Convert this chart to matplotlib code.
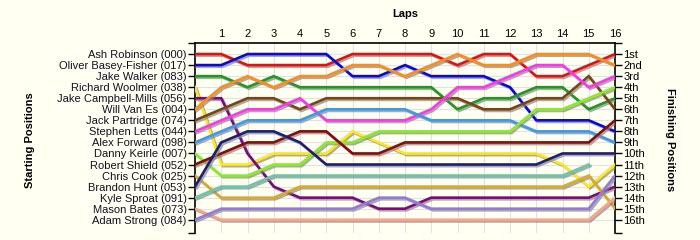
import numpy as np
import matplotlib
matplotlib.use("Agg")
import matplotlib.pyplot as plt
import matplotlib.patheffects as pe

nan = np.nan

# driver names in starting order
drivers = ["Ash Robinson (000)", "Oliver Basey-Fisher (017)", "Jake Walker (083)",
           "Richard Woolmer (038)", "Jake Campbell-Mills (056)", "Will Van Es (004)",
           "Jack Partridge (074)", "Stephen Letts (044)", "Alex Forward (098)",
           "Danny Keirle (007)", "Robert Shield (052)", "Chris Cook (025)",
           "Brandon Hunt (053)", "Kyle Sproat (091)", "Mason Bates (073)",
           "Adam Strong (084)"]
finish_labels = ["1st", "2nd", "3rd", "4th", "5th", "6th", "7th", "8th", "9th",
                 "10th", "11th", "12th", "13th", "14th", "15th", "16th"]
laps = list(range(17))

# position at laps 0..16
ash     = [1, 1, 2, 2, 2, 2, 1, 1, 1, 1, 2, 1, 1, 3, 3, 2, 1]
oliver  = [2, 2, 1, 1, 1, 1, 3, 3, 2, 3, 3, 3, 4, 7, 7, 7, 8]
jake_w  = [3, 3, 4, 3, 4, 4, 4, 4, 4, 4, 6, 5, 5, 4, 4, 6, 5]
richard = [4, 11, 11, 10, 10, 10, 8, 9, 10, 10, 10, 10, 10, 10, 11, 13, 11]
jake_cm = [5, 5, 10, 13, 14, 14, 14, 15, 15, 14, 14, 14, 14, 14, 14, 14, 13]
will    = [6, 4, 3, 4, 3, 3, 2, 2, 3, 2, 1, 2, 2, 1, 1, 1, 2]
jack    = [7, 6, 5, 5, 6, 5, 5, 5, 5, 5, 5, 6, 6, 5, 5, 3, 6]
stephen = [8, 7, 6, 6, 5, 7, 7, 7, 7, 6, 4, 4, 3, 2, 2, 4, 3]
alex    = [9, 8, 7, 7, 7, 6, 6, 6, 6, 7, 7, 7, 7, 8, 8, 8, 9]
danny   = [10, 12, 12, 11, 11, 9, 9, 8, 8, 8, 8, 8, 8, 6, 6, 5, 4]
robert  = [11, 10, 9, 9, 8, 8, 10, 10, 9, 9, 9, 9, 9, 9, 9, 9, 7]
chris   = [12, 14, 14, 14, 13, 13, 13, 13, 13, 13, 13, 13, 13, 13, 13, 12, 15]
brandon = [13, 9, 8, 8, 9, 11, 11, 11, 11, 11, 11, 11, 11, 11, 10, 10, 10]
kyle    = [14, 13, 13, 12, 12, 12, 12, 12, 12, 12, 12, 12, 12, 12, 12, 11, nan]
mason   = [15, 16, 16, 16, 16, 16, 16, 16, 16, 16, 16, 16, 16, 16, 16, 16, 14]
adam    = [16, 15, 15, 15, 15, 15, 15, 14, 14, 15, 15, 15, 15, 15, 15, 15, 12]

series = [ash, oliver, jake_w, richard, jake_cm, will, jack, stephen, alex,
          danny, robert, chris, brandon, kyle, mason, adam]
colors = ["#e61010", "#0a0ad8", "#1f9a1f", "#ffe81a", "#7d0a7d", "#ff8c1a",
          "#7a4515", "#ff33f0", "#3a9af0", "#88ee22", "#8b0a0a", "#dcaa28",
          "#1e1e78", "#66c8a8", "#ffa088", "#9478dc"]

bg = "#fffff2"
plt.rcParams['font.family'] = ['Liberation Sans', 'DejaVu Sans']

fig = plt.figure(figsize=(7, 2.4), dpi=100, facecolor=bg)
ax = fig.add_axes([195/700, 1 - 233/240, 420/700, 190/240], facecolor=bg)

shadow = [pe.SimpleLineShadow(offset=(1.2, -1.2), shadow_color="#888888", alpha=0.7),
          pe.Normal()]
for s, c in zip(series, colors):
    ax.plot(laps, s, color=c, lw=1.9, solid_joinstyle="miter",
            path_effects=shadow, zorder=3)

ax.set_xlim(0, 16)
ax.set_ylim(17.2, 0)

# grid
for x in range(1, 16):
    ax.axvline(x, color="#e2e2e2", lw=0.8, zorder=1)
for y in range(1, 17):
    ax.axhline(y, color="#e2e2e2", lw=0.8, zorder=1)

ax.spines["bottom"].set_visible(False)
for sp in ["left", "right", "top"]:
    ax.spines[sp].set_linewidth(1.2)

ax.xaxis.tick_top()
ax.set_xticks(range(1, 17))
ax.tick_params(axis="x", length=0, pad=3, labelsize=8)

ytk = [0] + list(range(1, 17)) + [17.2]
ax.set_yticks(ytk)
ax.set_yticklabels([""] + drivers + [""], fontsize=8, color="#111122")
ax.tick_params(axis="y", length=5, width=1, pad=1, left=True)

ax2 = ax.twinx()
ax2.set_ylim(17.2, 0)
ax2.set_yticks(ytk)
ax2.set_yticklabels([""] + finish_labels + [""], fontsize=8)
ax2.tick_params(axis="y", length=5, width=1, pad=1)
for sp in ax2.spines.values():
    sp.set_visible(False)

fig.text(405/700, 1 - 14/240, "Laps", ha="center", va="center",
         fontsize=8, fontweight="bold")
fig.text(30/700, 1 - 140/240, "Starting Positions", ha="center", va="center",
         rotation=90, fontsize=8, fontweight="bold")
fig.text(670/700, 1 - 140/240, "Finishing Positions", ha="center", va="center",
         rotation=270, fontsize=8, fontweight="bold")

fig.savefig("out.png", dpi=100, facecolor=bg)
